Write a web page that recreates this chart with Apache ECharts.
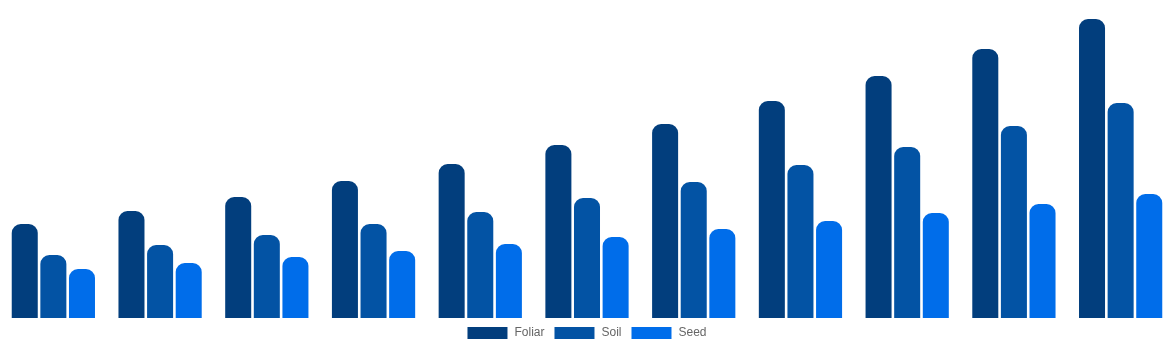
<!DOCTYPE html>
<html>
<head>
<meta charset="utf-8">
<script src="https://cdn.jsdelivr.net/npm/echarts@6/dist/echarts.min.js"></script>
<style>html,body{margin:0;padding:0;background:#fff;}#c{width:1174px;height:350px;}</style>
</head>
<body>
<div id="c"></div>
<script>
const categories = ['2014','2015','2016','2017','2018','2019','2020','2021','2022','2023','2024'];
const foliar = [94, 107, 121, 137, 154, 173, 194, 217, 242, 269, 299];
const soil = [63, 73, 83, 94, 106, 120, 136, 153, 171, 192, 215];
const seed = [49, 55, 61, 67, 74, 81, 89, 97, 105, 114, 124];

const chart = echarts.init(document.getElementById('c'));
const mk = (name, data, color) => ({
  name, type: 'bar', data,
  barGap: '10%', barCategoryGap: '22%',
  itemStyle: { color, borderRadius: [9, 9, 0, 0] }
});
chart.setOption({
  animation: false,
  grid: { left: 0, right: 0, top: 18, bottom: 32, containLabel: false },
  legend: {
    bottom: 6, left: 'center', icon: 'rect', itemWidth: 40, itemHeight: 12, itemGap: 10,
    textStyle: { color: '#666', fontSize: 12, padding: [0, 0, 0, 2], fontFamily: 'Liberation Sans, Arial, sans-serif' }
  },
  xAxis: { type: 'category', data: categories, show: false },
  yAxis: { type: 'value', min: 0, max: 300, show: false },
  series: [
    mk('Foliar', foliar, '#023E7D'),
    mk('Soil', soil, '#0353A4'),
    mk('Seed', seed, '#006DEA')
  ]
});
</script>
</body>
</html>
